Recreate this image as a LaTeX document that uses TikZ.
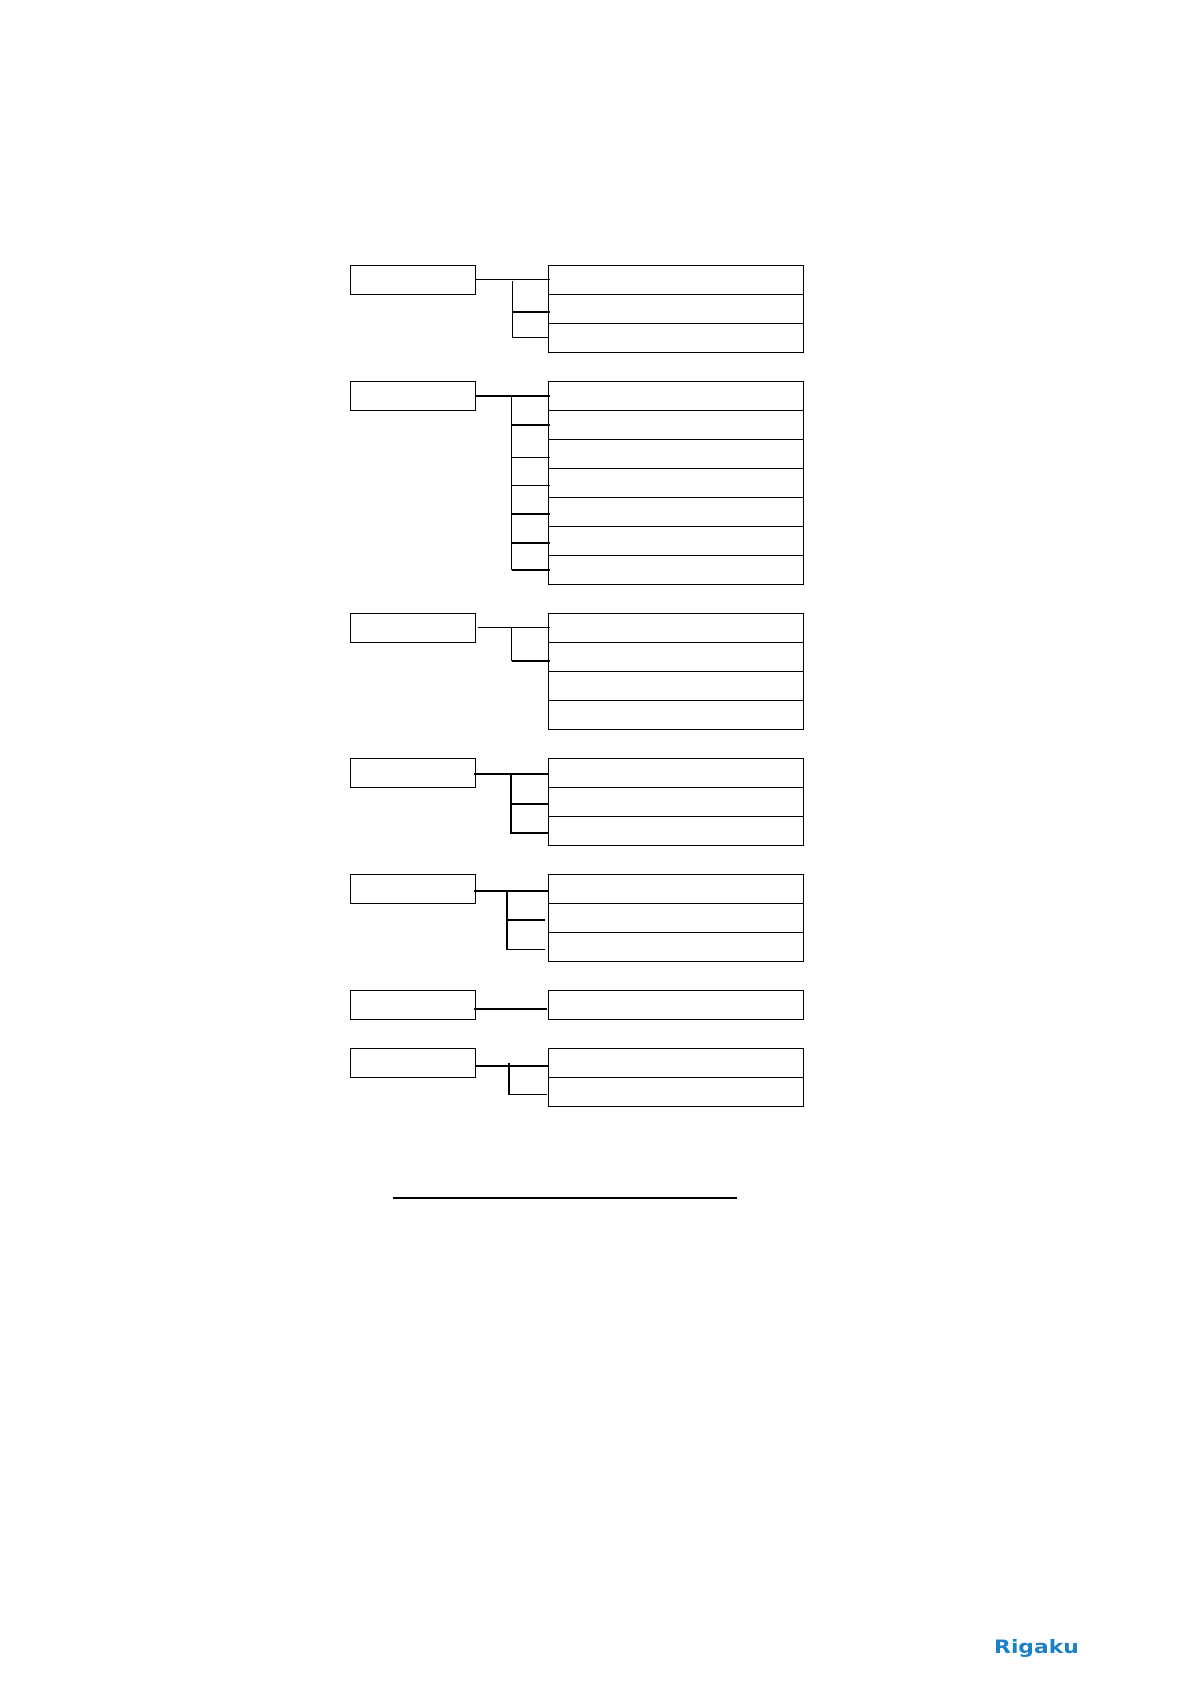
\documentclass[tikz,border=0pt]{standalone}
\usepackage{fontspec}
\usepackage{tikz}
\usetikzlibrary{calc}
\newfontfamily\logofont{DejaVu Sans}
\definecolor{logoblue}{HTML}{1B80C4}
\tikzset{
    headbox/.style={draw=black, line width=0.6pt, minimum width=2.5cm, minimum height=0.58cm, inner sep=0pt, outer sep=0pt},
    itembox/.style={draw=black, line width=0.6pt, minimum width=5.1cm, minimum height=0.58cm, inner sep=0pt, outer sep=0pt},
    thinlink/.style={line width=0.6pt},
    thicklink/.style={line width=1.2pt}
}

\begin{document}
\begin{tikzpicture}[x=0.02cm, y=-0.02cm]
    \useasboundingbox (0, 0) rectangle (1190, 1684);
    % left boxes
    \foreach \name/\top in {h1/265.5, h2/381.5, h3/613.5, h4/758.5, h5/874.5, h6/990.5, h7/1048.5} {
        \node[headbox] (\name) at (413, \top+14.5) {};
    }
    % right boxes
    \foreach \name/\top in {a1/265.5, a2/294.5, a3/323.5,
        b1/381.5, b2/410.5, b3/439.5, b4/468.5, b5/497.5, b6/526.5, b7/555.5,
        c1/613.5, c2/642.5, c3/671.5, c4/700.5,
        d1/758.5, d2/787.5, d3/816.5,
        e1/874.5, e2/903.5, e3/932.5,
        f1/990.5,
        g1/1048.5, g2/1077.5} {
        \node[itembox] (\name) at (676, \top+14.5) {};
    }
    % first group
    \coordinate (a) at (512.5, 281);
    \draw[thinlink] ($(h1.east)+(0,-0.5)$) -- ($(a1.west)+(1,-0.5)$);
    \draw[thinlink] (a) -- ($(a3.west -| a)+(0,0)$);
    \draw[thicklink] ($(a2.west)+(1,3)$) -- ($(a2.west -| a)+(-1,3)$);
    \draw[thinlink] ($(a3.west)+(0,-0.5)$) -- ($(a3.west -| a)+(-1,-0.5)$);
    % second group
    \coordinate (b) at (511.5, 396);
    \draw[thicklink] ($(h2.east)+(1,0)$) -- ($(b1.west)+(1,0)$);
    \draw[thinlink] (b) -- (b7.west -| b);
    \draw[thicklink] ($(b2.west)+(1,0)$) -- (b2.west -| b);
    \draw[thinlink] ($(b3.west)+(1,3.5)$) -- ($(b3.west -| b)+(0,3.5)$);
    \draw[thinlink] ($(b4.west)+(1,2.5)$) -- ($(b4.west -| b)+(-1,2.5)$);
    \draw[thicklink] ($(b5.west)+(1,2)$) -- ($(b5.west -| b)+(0,2)$);
    \draw[thicklink] ($(b6.west)+(1,2)$) -- ($(b6.west -| b)+(0,2)$);
    \draw[thicklink] ($(b7.west)+(1,0)$) -- (b7.west -| b);
    % third group
    \coordinate (c) at (511.5, 627.5);
    \draw[thinlink] ($(h3.east)+(3,-0.5)$) -- ($(c1.west)+(1,-0.5)$);
    \draw[thinlink] (c) -- ($(c2.west -| c)+(0,4)$);
    \draw[thicklink] ($(c2.west)+(1,4)$) -- ($(c2.west -| c)+(0,4)$);
    % fourth group
    \coordinate (d) at (511, 774);
    \draw[thicklink] ($(h4.east)+(-1,1)$) -- ($(d1.west)+(0,1)$);
    \draw[thicklink] (d) -- ($(d3.west -| d)+(0,2.5)$);
    \draw[thicklink] ($(d2.west)+(0,2)$) -- ($(d2.west -| d)+(0,2)$);
    \draw[thicklink] ($(d3.west)+(0,2)$) -- ($(d3.west -| d)+(0,2)$);
    % fifth group
    \coordinate (e) at (507, 891);
    \draw[thicklink] ($(h5.east)+(-1,2)$) -- ($(e1.west)+(0,2)$);
    \draw[thicklink] (e) -- ($(e3.west -| e)+(0,2.5)$);
    \draw[thicklink] ($(e2.west)+(-3.5,2)$) -- ($(e2.west -| e)+(0,2)$);
    \draw[thinlink] ($(e3.west)+(-4,2.5)$) -- ($(e3.west -| e)+(0,2.5)$);
    % sixth group
    \draw[thicklink] ($(h6.east)+(-1,4)$) -- ($(f1.west)+(-2,4)$);
    % last group
    \coordinate (g) at (509, 1063);
    \draw[thicklink] ($(h7.east)+(0,3)$) -- ($(g1.west)+(0,3)$);
    \draw[thicklink] (g) -- ($(g2.west -| g)+(0,2.5)$);
    \draw[thinlink] ($(g2.west)+(-2,2.5)$) -- ($(g2.west -| g)+(0,2.5)$);
    % rule below the boxes
    \coordinate (ruleleft) at (393, 1198);
    \coordinate (ruleright) at (737, 1198);
    \draw[thicklink] (ruleleft) -- (ruleright);
    \node[font=\logofont\bfseries, text=logoblue, inner sep=0pt] (logo) at (1036.5, 1648) {\scalebox{1.24}[1.05]{Rigaku}};
\end{tikzpicture}
\end{document}
